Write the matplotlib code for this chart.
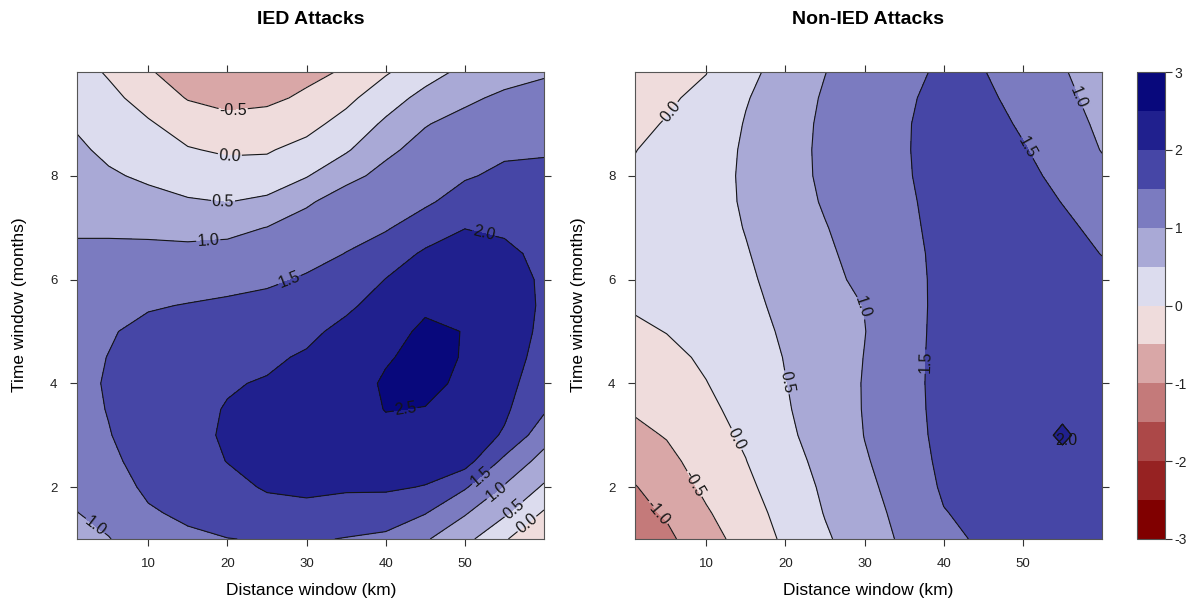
import numpy as np
import matplotlib
matplotlib.use("Agg")
import matplotlib.pyplot as plt
from matplotlib.colors import ListedColormap, BoundaryNorm

plt.rcParams["font.family"] = ["Liberation Sans", "DejaVu Sans"]
plt.rcParams["axes.unicode_minus"] = False

# grid
distance_km = [1, 5, 10, 15, 20, 25, 30, 35, 40, 45, 50, 55, 60]
time_months = [1, 1.5, 2, 2.5, 3, 3.5, 4, 4.5, 5, 5.5, 6, 6.5, 7, 7.5, 8, 8.5, 9, 9.5, 10]

# one list per distance (in the order of distance_km), values going up in time
ied_cols = [
    [0.85, 0.99, 1.12, 1.22, 1.30, 1.35, 1.38, 1.38, 1.35, 1.30, 1.22, 1.10, 0.93, 0.80, 0.70, 0.58, 0.45, 0.32, 0.18],
    [0.98, 1.16, 1.30, 1.41, 1.48, 1.52, 1.54, 1.51, 1.46, 1.37, 1.25, 1.10, 0.93, 0.78, 0.56, 0.40, 0.27, 0.12, -0.05],
    [1.30, 1.45, 1.58, 1.66, 1.72, 1.75, 1.76, 1.72, 1.62, 1.46, 1.30, 1.12, 0.90, 0.65, 0.42, 0.22, 0.05, -0.18, -0.45],
    [1.42, 1.58, 1.72, 1.82, 1.88, 1.90, 1.90, 1.85, 1.75, 1.52, 1.30, 1.10, 0.88, 0.55, 0.25, 0.03, -0.20, -0.53, -0.75],
    [1.49, 1.72, 1.88, 2.01, 2.05, 2.02, 1.97, 1.88, 1.78, 1.58, 1.35, 1.15, 0.88, 0.49, 0.20, -0.06, -0.38, -0.62, -0.82],
    [1.53, 1.85, 2.04, 2.15, 2.18, 2.12, 2.03, 1.93, 1.83, 1.65, 1.42, 1.25, 1.01, 0.60, 0.20, -0.04, -0.30, -0.60, -0.80],
    [1.55, 1.86, 2.10, 2.25, 2.30, 2.27, 2.18, 2.05, 1.90, 1.74, 1.55, 1.35, 1.16, 0.95, 0.47, 0.15, -0.15, -0.42, -0.62],
    [1.48, 1.78, 2.06, 2.22, 2.32, 2.36, 2.35, 2.28, 2.12, 1.92, 1.70, 1.51, 1.35, 1.17, 0.90, 0.44, 0.17, -0.12, -0.45],
    [1.40, 1.75, 2.06, 2.28, 2.42, 2.51, 2.54, 2.47, 2.36, 2.18, 2.01, 1.78, 1.45, 1.25, 1.10, 0.93, 0.58, 0.28, -0.05],
    [1.05, 1.52, 1.98, 2.20, 2.38, 2.49, 2.58, 2.60, 2.57, 2.44, 2.26, 2.06, 1.77, 1.42, 1.25, 1.12, 0.98, 0.65, 0.30],
    [0.65, 1.04, 1.55, 2.20, 2.28, 2.38, 2.44, 2.48, 2.49, 2.45, 2.36, 2.20, 1.99, 1.72, 1.45, 1.27, 1.12, 0.93, 0.62],
    [0.05, 0.58, 0.96, 1.38, 1.95, 2.08, 2.14, 2.18, 2.20, 2.19, 2.15, 2.07, 1.95, 1.80, 1.60, 1.42, 1.25, 1.07, 0.85],
    [-0.45, -0.06, 0.44, 0.82, 1.20, 1.57, 1.75, 1.86, 1.92, 1.95, 1.95, 1.92, 1.85, 1.75, 1.62, 1.45, 1.30, 1.15, 0.95],
]

non_ied_cols = [
    [-1.25, -1.14, -1.02, -0.84, -0.62, -0.45, -0.32, -0.20, -0.07, 0.04, 0.11, 0.15, 0.15, 0.12, 0.05, -0.01, -0.07, -0.14, -0.22],
    [-1.10, -0.95, -0.80, -0.63, -0.47, -0.33, -0.21, -0.10, 0.01, 0.10, 0.17, 0.21, 0.23, 0.23, 0.20, 0.12, 0.02, -0.05, -0.12],
    [-0.70, -0.55, -0.40, -0.28, -0.18, -0.09, -0.01, 0.06, 0.12, 0.17, 0.22, 0.26, 0.28, 0.29, 0.27, 0.23, 0.17, 0.09, -0.01],
    [-0.30, -0.19, -0.09, -0.01, 0.07, 0.14, 0.20, 0.25, 0.30, 0.36, 0.42, 0.47, 0.52, 0.56, 0.58, 0.57, 0.53, 0.47, 0.38],
    [0.08, 0.15, 0.22, 0.36, 0.44, 0.47, 0.49, 0.52, 0.57, 0.63, 0.68, 0.73, 0.78, 0.80, 0.82, 0.82, 0.80, 0.75, 0.68],
    [0.44, 0.52, 0.58, 0.61, 0.63, 0.66, 0.70, 0.74, 0.78, 0.83, 0.88, 0.93, 0.98, 1.04, 1.08, 1.09, 1.08, 1.05, 0.99],
    [0.75, 0.83, 0.90, 0.96, 1.01, 1.03, 1.03, 1.01, 0.99, 1.01, 1.10, 1.15, 1.20, 1.24, 1.28, 1.30, 1.30, 1.29, 1.27],
    [1.08, 1.13, 1.18, 1.23, 1.27, 1.29, 1.30, 1.30, 1.30, 1.31, 1.33, 1.36, 1.40, 1.43, 1.46, 1.47, 1.47, 1.45, 1.42],
    [1.40, 1.48, 1.56, 1.61, 1.65, 1.67, 1.68, 1.67, 1.65, 1.63, 1.62, 1.62, 1.63, 1.64, 1.65, 1.65, 1.63, 1.60, 1.55],
    [1.56, 1.63, 1.70, 1.76, 1.80, 1.82, 1.82, 1.81, 1.80, 1.78, 1.77, 1.76, 1.75, 1.74, 1.72, 1.69, 1.65, 1.59, 1.52],
    [1.65, 1.73, 1.80, 1.86, 1.90, 1.91, 1.90, 1.88, 1.85, 1.83, 1.80, 1.77, 1.73, 1.67, 1.60, 1.53, 1.45, 1.36, 1.25],
    [1.72, 1.80, 1.88, 1.95, 2.03, 1.96, 1.90, 1.86, 1.83, 1.78, 1.72, 1.65, 1.58, 1.49, 1.40, 1.31, 1.22, 1.14, 1.05],
    [1.75, 1.80, 1.85, 1.88, 1.90, 1.88, 1.85, 1.80, 1.75, 1.68, 1.60, 1.49, 1.40, 1.27, 1.13, 0.98, 0.90, 0.80, 0.70],
]

levels = [-3, -2.5, -2, -1.5, -1, -0.5, 0, 0.5, 1, 1.5, 2, 2.5, 3]
level_colors = ["#800000", "#962222", "#ac4848", "#c47a7a", "#d9a7a7", "#efdcdc",
                "#dcdcee", "#a9a9d6", "#7b7bc0", "#4646a6", "#20208e", "#08087c"]

# where the contour labels sit (data coords)
ied_label_pos = [(20.7, 9.28), (20.3, 8.38), (19.5, 7.57), (17.6, 6.72), (27.9, 5.97),
                 (52.7, 7.09), (42.6, 3.40), (51.9, 2.24), (54.0, 1.91), (56.1, 1.59),
                 (57.8, 1.30), (3.4, 1.27)]
non_ied_label_pos = [(5.4, 9.25), (57.5, 9.54), (50.9, 8.57), (30.5, 5.48), (37.0, 4.42),
                     (20.8, 4.04), (13.6, 2.91), (8.6, 2.07), (4.6, 1.59)]

W, H = 1193, 603
fig = plt.figure(figsize=(W / 100, H / 100), dpi=100)

def px_axes(x0, y0, x1, y1):
    return fig.add_axes([x0 / W, 1 - y1 / H, (x1 - x0) / W, (y1 - y0) / H])

cmap = ListedColormap(level_colors)
norm = BoundaryNorm(levels, cmap.N)

def draw_panel(ax, cols, title, label_pos, cx):
    z = np.array(cols).T
    ax.contourf(distance_km, time_months, z, levels=levels, colors=level_colors)
    cs = ax.contour(distance_km, time_months, z, levels=levels, colors="#151515",
                    linewidths=0.8, linestyles="solid")
    ax.clabel(cs, fmt="%.1f", fontsize=11.5, manual=label_pos, inline=True, inline_spacing=1)
    ax.set_xlim(1, 60)
    ax.set_ylim(1, 10)
    ax.set_xticks([10, 20, 30, 40, 50])
    ax.set_yticks([2, 4, 6, 8])
    ax.tick_params(direction="out", length=5, width=0.8, colors="#333333", labelsize=9.5,
                   top=True, right=True, labeltop=False, labelright=False, pad=9)
    ax.tick_params(labelcolor="#222222")
    for s in ax.spines.values():
        s.set_color("#555555")
        s.set_linewidth(0.8)
    fig.text(cx / W, 1 - 19 / H, title, ha="center", va="center", fontsize=14, fontweight="bold")
    fig.text(cx / W, 1 - 591 / H, "Distance window (km)", ha="center", va="center", fontsize=12.5)
    return z

ax1 = px_axes(77, 72, 544, 539)
draw_panel(ax1, ied_cols, "IED Attacks", ied_label_pos, 311)
fig.text(20 / W, 1 - 305 / H, "Time window (months)", rotation=90, ha="center", va="center", fontsize=12.5)

ax2 = px_axes(635, 72, 1102, 539)
z2 = draw_panel(ax2, non_ied_cols, "Non-IED Attacks", non_ied_label_pos, 868)
# tiny 2.0 loop: label it without cutting the loop
small = ax2.contour(distance_km, time_months, z2, levels=[2.0], colors="#151515", linewidths=0.8)
for t in ax2.clabel(small, fmt="%.1f", fontsize=11.5, manual=[(55.4, 2.9)], inline=False):
    t.set_rotation(0)
fig.text(579 / W, 1 - 305 / H, "Time window (months)", rotation=90, ha="center", va="center", fontsize=12.5)

cax = px_axes(1137, 72, 1165, 539)
sm = plt.cm.ScalarMappable(cmap=cmap, norm=norm)
cb = fig.colorbar(sm, cax=cax, ticks=[-3, -2, -1, 0, 1, 2, 3])
cb.minorticks_off()
cb.ax.set_yticklabels(["-3", "-2", "-1", "0", "1", "2", "3"])
cb.ax.tick_params(direction="out", length=5, width=0.8, colors="#333333", labelsize=10,
                  labelcolor="#222222", pad=2)
cb.outline.set_edgecolor("#555555")
cb.outline.set_linewidth(0.8)

fig.savefig("out.png", dpi=100)
